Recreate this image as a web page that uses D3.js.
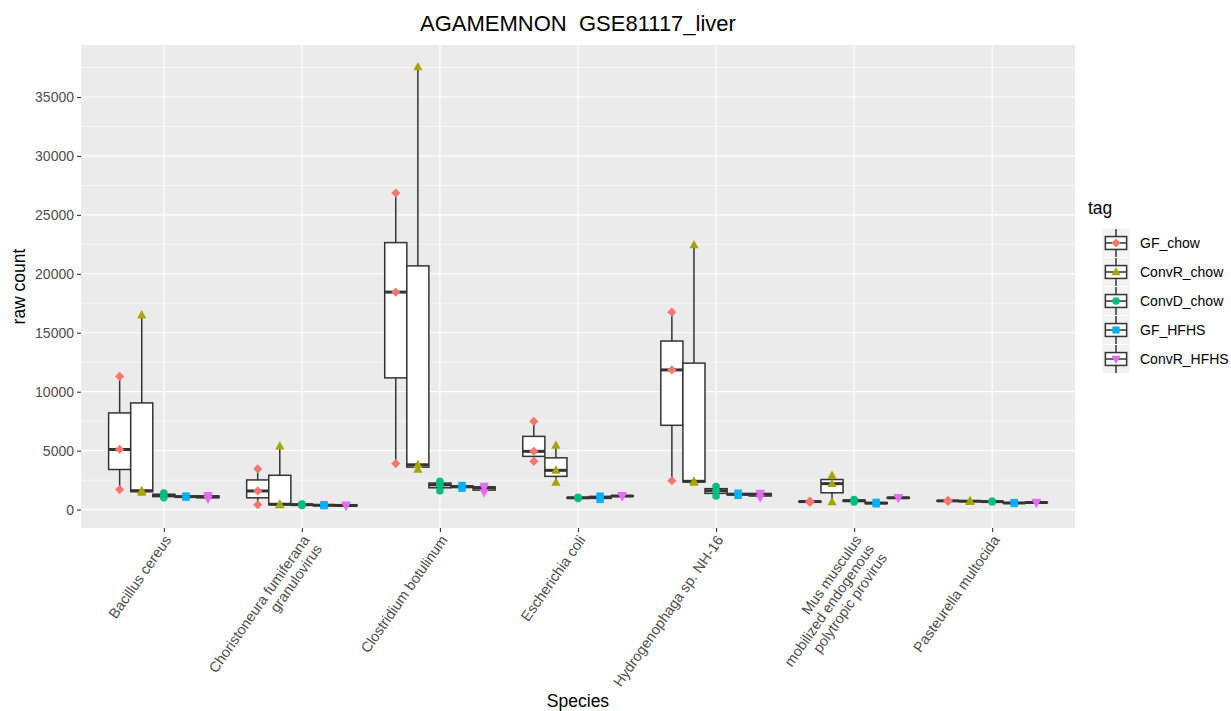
<!DOCTYPE html>
<html>
<head>
<meta charset="utf-8">
<script src="https://cdn.jsdelivr.net/npm/d3@7"></script>
<style>
  html, body { margin: 0; padding: 0; background: #ffffff; }
  svg { display: block; font-family: "Liberation Sans", Arial, Helvetica, sans-serif; }
</style>
</head>
<body>
<svg id="chart" width="1231" height="711"></svg>
<script>
// Species on the x axis (multi-line names split with "\n")
const species = [
  "Bacillus cereus",
  "Choristoneura fumiferana\ngranulovirus",
  "Clostridium botulinum",
  "Escherichia coli",
  "Hydrogenophaga sp. NH-16",
  "Mus musculus\nmobilized endogenous\npolytropic provirus",
  "Pasteurella multocida"
];

// Sample tags, in legend / dodge order
const tags = ["GF_chow", "ConvR_chow", "ConvD_chow", "GF_HFHS", "ConvR_HFHS"];
const tagColors = ["#F8766D", "#A3A500", "#00BF7D", "#00B0F6", "#E76BF3"];

// Raw counts: three samples per species for each tag (same order as species)
const gfChow = [
  [1700, 5100, 11300], [420, 1580, 3450], [3900, 18450, 26850], [4090, 4940, 7480],
  [2450, 11850, 16750], [600, 680, 720], [700, 740, 780]
];
const convRChow = [
  [1450, 1600, 16500], [400, 450, 5370], [3400, 3800, 37550], [2310, 3330, 5450],
  [2300, 2400, 22450], [650, 2200, 2900], [680, 710, 740]
];
const convDChow = [
  [1000, 1200, 1400], [350, 420, 480], [1600, 2100, 2400], [950, 1000, 1050],
  [1150, 1600, 1950], [650, 750, 850], [640, 680, 700]
];
const gfHFHS = [
  [1050, 1100, 1150], [320, 370, 420], [1800, 1950, 2050], [850, 1050, 1150],
  [1200, 1300, 1400], [480, 550, 620], [520, 560, 600]
];
const convRHFHS = [
  [900, 1100, 1200], [300, 350, 400], [1450, 1850, 2000], [1100, 1150, 1200],
  [1000, 1300, 1400], [950, 1000, 1050], [560, 600, 640]
];
const seriesValues = [gfChow, convRChow, convDChow, gfHFHS, convRHFHS];

const yTicks = [0, 5000, 10000, 15000, 20000, 25000, 30000, 35000];

// ---- layout ----
const svg = d3.select("#chart");
const panel = { left: 81, right: 1075, top: 45, bottom: 528 };

// Flatten into one record per tag x species
const groups = [];
seriesValues.forEach((arr, t) => {
  arr.forEach((vals, s) => {
    const sorted = vals.slice().sort(d3.ascending);
    groups.push({
      tag: t, sp: s, vals: sorted,
      min: sorted[0], max: sorted[sorted.length - 1],
      q1: d3.quantile(sorted, 0.25), med: d3.quantile(sorted, 0.5), q3: d3.quantile(sorted, 0.75)
    });
  });
});

const allVals = groups.flatMap(g => g.vals);
const vMin = d3.min(allVals), vMax = d3.max(allVals);
const pad = (vMax - vMin) * 0.05;

const x = d3.scalePoint().domain(d3.range(species.length))
  .range([panel.left, panel.right]).padding(0.6);
const step = x.step();
const dodge = 0.8 * step / tags.length;
const xPos = (g) => x(g.sp) + (g.tag - (tags.length - 1) / 2) * dodge;

const y = d3.scaleLinear().domain([vMin - pad, vMax + pad]).range([panel.bottom, panel.top]);

// panel background and grid
svg.append("rect")
  .attr("x", panel.left).attr("y", panel.top)
  .attr("width", panel.right - panel.left).attr("height", panel.bottom - panel.top)
  .attr("fill", "#EBEBEB");

const minorTicks = d3.range(2500, vMax + pad, 5000).filter(v => y(v) > panel.top);
svg.append("g").selectAll("line").data(minorTicks).join("line")
  .attr("x1", panel.left).attr("x2", panel.right)
  .attr("y1", d => y(d)).attr("y2", d => y(d))
  .attr("stroke", "#ffffff").attr("stroke-width", 0.6);

svg.append("g").selectAll("line").data(yTicks).join("line")
  .attr("x1", panel.left).attr("x2", panel.right)
  .attr("y1", d => y(d)).attr("y2", d => y(d))
  .attr("stroke", "#ffffff").attr("stroke-width", 1.2);

svg.append("g").selectAll("line").data(d3.range(species.length)).join("line")
  .attr("x1", d => x(d)).attr("x2", d => x(d))
  .attr("y1", panel.top).attr("y2", panel.bottom)
  .attr("stroke", "#ffffff").attr("stroke-width", 1.2);

// ---- axes ----
const yAxis = svg.append("g")
  .attr("transform", `translate(${panel.left},0)`)
  .call(d3.axisLeft(y).tickValues(yTicks).tickSize(4).tickPadding(3).tickFormat(d3.format("d")));
yAxis.select(".domain").remove();
yAxis.selectAll(".tick line").attr("stroke", "#333333").attr("stroke-width", 1.1);
yAxis.selectAll(".tick text").attr("fill", "#4D4D4D")
  .style("font-size", "14px").style("font-family", "'Liberation Sans', Arial, sans-serif");

const xAxis = svg.append("g")
  .attr("transform", `translate(0,${panel.bottom})`)
  .call(d3.axisBottom(x).tickSize(4).tickFormat(""));
xAxis.select(".domain").remove();
xAxis.selectAll(".tick line").attr("stroke", "#333333").attr("stroke-width", 1.1);
xAxis.selectAll(".tick text").remove();

// rotated, right-aligned species labels
const lineH = 15.5;
svg.append("g").selectAll("text").data(d3.range(species.length)).join("text")
  .attr("transform", d => `translate(${x(d) + 4},${panel.bottom + 9}) rotate(-55)`)
  .attr("text-anchor", "end")
  .attr("fill", "#4D4D4D")
  .style("font-size", "14.5px")
  .each(function (d) {
    const lines = species[d].split("\n");
    d3.select(this).selectAll("tspan").data(lines).join("tspan")
      .attr("x", 0)
      .attr("y", (l, i) => i * lineH)
      .attr("dy", "0.35em")
      .text(l => l);
  });

// ---- boxplots ----
const boxW = dodge;
const boxes = svg.append("g").selectAll("g").data(groups).join("g");

boxes.append("line")
  .attr("x1", xPos).attr("x2", xPos)
  .attr("y1", g => y(g.q3)).attr("y2", g => y(g.max))
  .attr("stroke", "#333333").attr("stroke-width", 1.5);
boxes.append("line")
  .attr("x1", xPos).attr("x2", xPos)
  .attr("y1", g => y(g.q1)).attr("y2", g => y(g.min))
  .attr("stroke", "#333333").attr("stroke-width", 1.5);
boxes.append("rect")
  .attr("x", g => xPos(g) - boxW / 2).attr("width", boxW)
  .attr("y", g => y(g.q3)).attr("height", g => Math.max(0, y(g.q1) - y(g.q3)))
  .attr("fill", "#ffffff").attr("stroke", "#333333").attr("stroke-width", 1.5);
boxes.append("line")
  .attr("x1", g => xPos(g) - boxW / 2).attr("x2", g => xPos(g) + boxW / 2)
  .attr("y1", g => y(g.med)).attr("y2", g => y(g.med))
  .attr("stroke", "#333333").attr("stroke-width", 3);

// ---- point shapes per tag ----
function shapePath(t, r) {
  const p = d3.path();
  if (t === 0) {            // diamond
    p.moveTo(0, -r); p.lineTo(r, 0); p.lineTo(0, r); p.lineTo(-r, 0); p.closePath();
  } else if (t === 1) {     // triangle up
    const h = r * 1.8;
    p.moveTo(0, -h * 0.6); p.lineTo(r, h * 0.4); p.lineTo(-r, h * 0.4); p.closePath();
  } else if (t === 2) {     // circle
    p.arc(0, 0, r * 0.82, 0, 2 * Math.PI);
  } else if (t === 3) {     // square
    const s = r * 0.78;
    p.rect(-s, -s, 2 * s, 2 * s);
  } else {                  // triangle down
    const h = r * 1.8;
    p.moveTo(0, h * 0.6); p.lineTo(r, -h * 0.4); p.lineTo(-r, -h * 0.4); p.closePath();
  }
  return p.toString();
}

const points = groups.flatMap(g => g.vals.map(v => ({ g, v })));
svg.append("g").selectAll("path").data(points).join("path")
  .attr("transform", d => `translate(${xPos(d.g)},${y(d.v)})`)
  .attr("d", d => shapePath(d.g.tag, 4.6))
  .attr("fill", d => tagColors[d.g.tag]);

// ---- titles ----
svg.append("text")
  .attr("x", (panel.left + panel.right) / 2).attr("y", 31)
  .attr("text-anchor", "middle").attr("fill", "#000000")
  .style("font-size", "22px").style("white-space", "pre")
  .text("AGAMEMNON  GSE81117_liver");

svg.append("text")
  .attr("transform", `translate(25,${(panel.top + panel.bottom) / 2}) rotate(-90)`)
  .attr("text-anchor", "middle").attr("fill", "#000000")
  .style("font-size", "17.5px")
  .text("raw count");

svg.append("text")
  .attr("x", (panel.left + panel.right) / 2).attr("y", 707)
  .attr("text-anchor", "middle").attr("fill", "#000000")
  .style("font-size", "17.5px")
  .text("Species");

// ---- legend ----
const legend = svg.append("g").attr("transform", "translate(1102,229)");
legend.append("text")
  .attr("x", -14).attr("y", -15)
  .attr("fill", "#000000").style("font-size", "17.5px")
  .text("tag");

const keySize = 28, keyStep = 29;
const keys = legend.selectAll("g").data(tags).join("g")
  .attr("transform", (d, i) => `translate(0,${i * keyStep})`);
keys.append("rect")
  .attr("width", keySize).attr("height", keySize).attr("fill", "#F2F2F2");
keys.append("line")
  .attr("x1", keySize / 2).attr("x2", keySize / 2).attr("y1", 0).attr("y2", keySize)
  .attr("stroke", "#333333").attr("stroke-width", 1.5);
keys.append("rect")
  .attr("x", keySize * 0.12).attr("width", keySize * 0.76)
  .attr("y", keySize * 0.27).attr("height", keySize * 0.46)
  .attr("fill", "#ffffff").attr("stroke", "#333333").attr("stroke-width", 1.5);
keys.append("line")
  .attr("x1", keySize * 0.12).attr("x2", keySize * 0.88)
  .attr("y1", keySize / 2).attr("y2", keySize / 2)
  .attr("stroke", "#333333").attr("stroke-width", 1.5);
keys.append("path")
  .attr("transform", `translate(${keySize / 2},${keySize / 2})`)
  .attr("d", (d, i) => shapePath(i, 4.6))
  .attr("fill", (d, i) => tagColors[i]);
keys.append("text")
  .attr("x", 38).attr("y", keySize / 2).attr("dy", "0.35em")
  .attr("fill", "#000000").style("font-size", "14px")
  .text(d => d);
</script>
</body>
</html>
